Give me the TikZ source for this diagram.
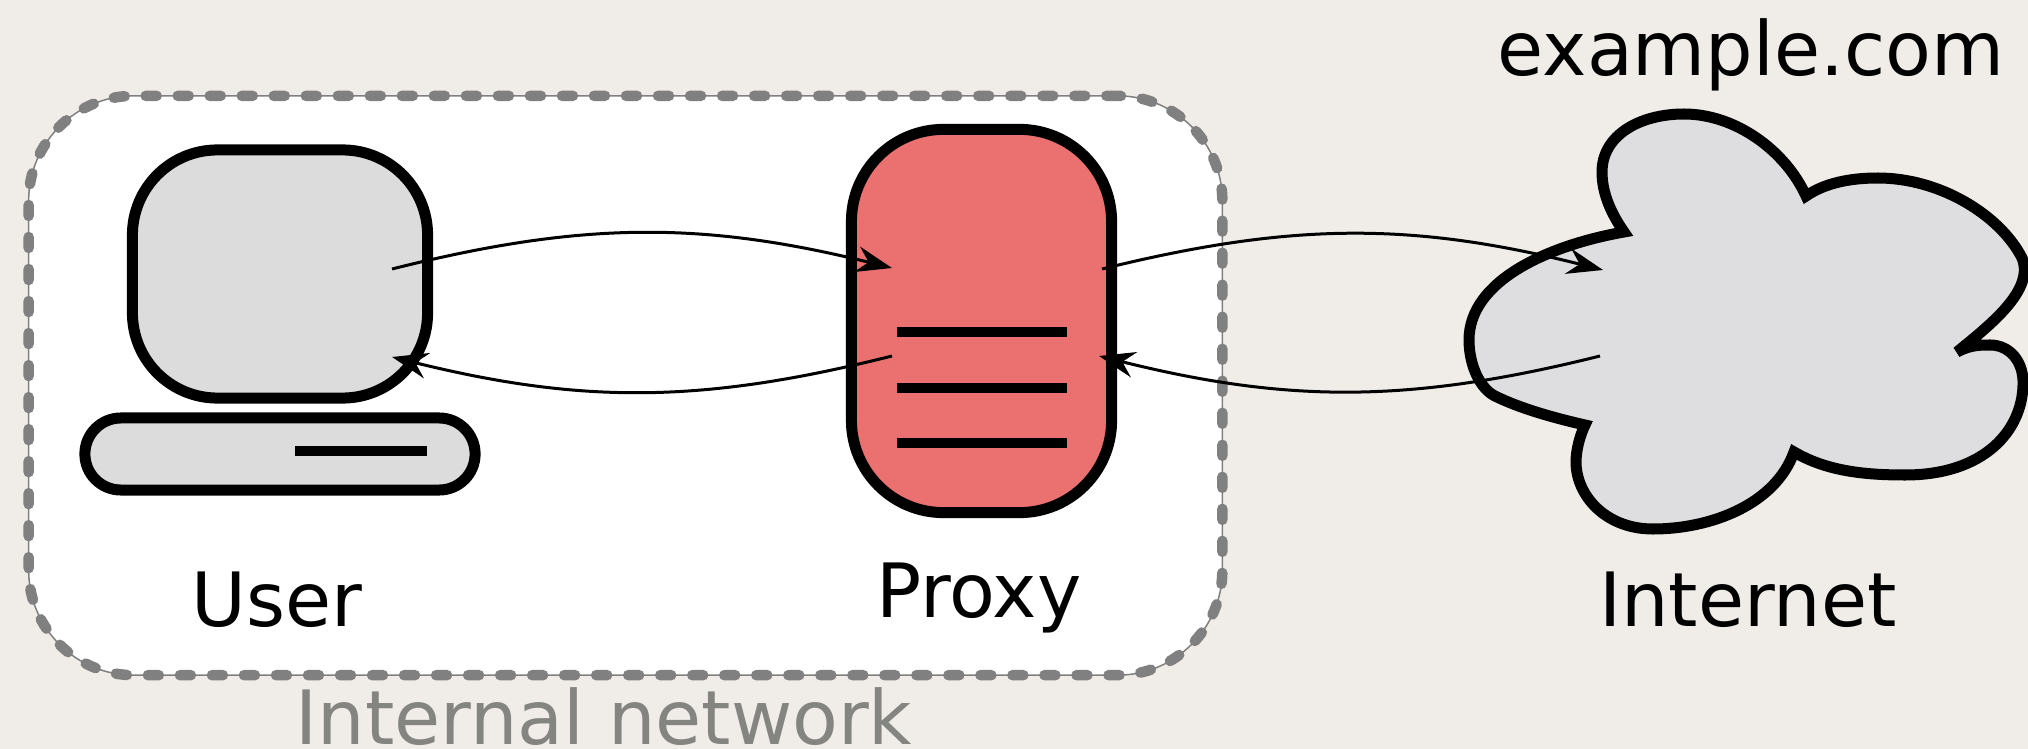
\documentclass[tikz,border=0pt]{standalone}
\usepackage{fontspec}
\setmainfont{DejaVu Sans}
\usetikzlibrary{arrows.meta}
\definecolor{pagebg}{RGB}{240,237,232}
\definecolor{screengray}{RGB}{220,220,220}
\definecolor{cloudgray}{RGB}{222,222,224}
\definecolor{proxyred}{RGB}{235,113,113}
\definecolor{netgray}{RGB}{128,128,128}
\definecolor{nettext}{RGB}{132,132,128}
\tikzset{
  shapeline/.style={draw=black,line width=0.11cm},
  box/.style={shapeline,rectangle,inner sep=0pt,outer sep=0pt},
  slot/.style={line width=0.1cm,black},
  label/.style={anchor=base,inner sep=0pt,font=\fontsize{21.3}{25}\selectfont},
  netbox/.style={rectangle,inner sep=0pt,draw=netgray,fill=white,line width=0.015cm,
    rounded corners=1.05cm,minimum width=11.93cm,minimum height=5.79cm},
  netdash/.style={draw=netgray,line width=0.105cm,line cap=round,dash pattern=on 0.11cm off 0.21cm,
    rectangle,inner sep=0pt,rounded corners=1.05cm,minimum width=11.93cm,minimum height=5.79cm},
}
\begin{document}
\begin{tikzpicture}[x=0.01cm,y=-0.01cm,>={Stealth[length=0.36cm,width=0.26cm,inset=0.12cm]}]
\fill[pagebg] (0,0) rectangle (2028,749);
\useasboundingbox (0,0) rectangle (2028,749);
% internal network
\node (net) [netbox] at (625.5,385.5) {};
\node (netd) [netdash] at (625.5,385.5) {};
\node (nettitle) [label,text=nettext] at (604,744) {Internal network};
% user
\node (screen) [box,fill=screengray,rounded corners=0.85cm,minimum width=2.95cm,minimum height=2.48cm] at (280,274) {};
\node (base) [box,fill=screengray,rounded corners=0.36cm,minimum width=3.9cm,minimum height=0.72cm] at (280,454) {};
\draw[slot] (295,451) -- (427,451);
\node (user) [label] at (277,626) {User};
% proxy
\node (proxy) [box,fill=proxyred,rounded corners=0.92cm,minimum width=2.6cm,minimum height=3.83cm] at (981.5,321) {};
\foreach \y in {332,388,443}
  \draw[slot] (897,\y) -- (1067,\y);
\node (proxytitle) [label] at (979,617) {Proxy};
% internet
\draw[shapeline,fill=cloudgray,line join=miter,miter limit=3]
  (1624,232) .. controls (1610,212) and (1602,192) .. (1602,172)
  .. controls (1602,135) and (1640,114) .. (1684,114)
  .. controls (1735,114) and (1785,150) .. (1806,196)
  .. controls (1825,183) and (1850,178) .. (1878,178)
  .. controls (1940,178) and (2000,215) .. (2022,258)
  .. controls (2035,290) and (1990,325) .. (1957,352)
  .. controls (1970,345) and (1980,345) .. (1990,345)
  .. controls (2010,345) and (2024,362) .. (2023,385)
  .. controls (2022,430) and (1985,475) .. (1905,475)
  .. controls (1860,475) and (1825,470) .. (1794,452)
  .. controls (1775,505) and (1710,529) .. (1653,529)
  .. controls (1605,529) and (1576,495) .. (1576,462)
  .. controls (1576,450) and (1580,435) .. (1585,425)
  .. controls (1550,417) and (1520,408) .. (1497,397)
  .. controls (1480,390) and (1469,365) .. (1469,340)
  .. controls (1469,280) and (1550,245) .. (1624,232)
  -- cycle;
\node (site) [label] at (1751,76) {example.com};
\node (internet) [label] at (1748,626) {Internet};
% connectors
\coordinate (userout) at (392,269);
\coordinate (userin) at (392,357);
\coordinate (proxyin) at (892,268);
\coordinate (proxyout) at (892,356);
\coordinate (proxyfwd) at (1102,269);
\coordinate (proxyback) at (1099,356);
\coordinate (webin) at (1603,270);
\coordinate (webout) at (1600,356);
\path[->,line width=0.03cm]
(userout) edge [bend left=14] (proxyin)
(proxyout) edge [bend left=14] (userin)
(proxyfwd) edge [bend left=14] (webin)
(webout) edge [bend left=14] (proxyback)
;
\end{tikzpicture}
\end{document}
